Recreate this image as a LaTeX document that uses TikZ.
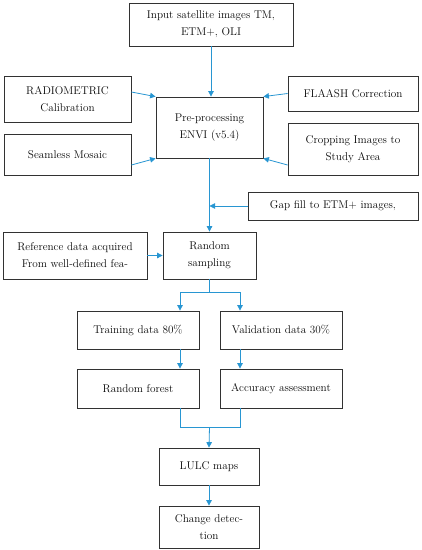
\documentclass[tikz,border=0pt]{standalone}
\usetikzlibrary{arrows.meta}
\definecolor{flow}{RGB}{40,150,210}
\definecolor{edge}{RGB}{50,50,50}
\definecolor{ink}{RGB}{10,10,10}
\begin{document}
\begin{tikzpicture}[x=1pt,y=1pt,
  box/.style={draw=edge,line width=0.8pt,rectangle,inner sep=0pt,align=center,text=ink,
    font=\fontsize{11.2}{17}\selectfont},
  arr/.style={draw=flow,line width=0.8pt,-{Triangle[length=5.5pt,width=5.5pt]}},
  ln/.style={draw=flow,line width=0.8pt}]
\useasboundingbox (0,0) rectangle (422,-550);
\node[box,minimum width=164,minimum height=43] (inp) at (211,-24.5) {Input satellite images TM,\\ETM+, OLI};
\node[box,minimum width=127,minimum height=46] (rad) at (67.5,-99) {RADIOMETRIC\\Calibration};
\node[box,minimum width=107,minimum height=61] (pre) at (209.5,-127.5) {Pre-processing\\ENVI (v5.4)};
\node[box,minimum width=130,minimum height=35] (fla) at (353,-93.5) {FLAASH Correction};
\node[box,minimum width=127,minimum height=41] (sea) at (67.5,-154.5) {Seamless Mosaic};
\node[box,minimum width=130,minimum height=52] (cro) at (353,-149) {Cropping Images to\\Study Area};
\node[box,minimum width=170,minimum height=28] (gap) at (333,-206) {Gap fill to ETM+ images,};
\node[box,minimum width=144,minimum height=47] (ref) at (75,-255.5) {Reference data acquired\\From well-defined fea-};
\node[box,minimum width=93,minimum height=47] (rs) at (209.5,-255.5) {Random\\sampling};
\node[box,minimum width=122,minimum height=38] (tr) at (138,-330) {Training data 80\%};
\node[box,minimum width=122,minimum height=38] (va) at (281,-330) {Validation data 30\%};
\node[box,minimum width=122,minimum height=39] (rf) at (138,-388.5) {Random forest};
\node[box,minimum width=122,minimum height=39] (ac) at (281,-388.5) {Accuracy assessment};
\node[box,minimum width=100,minimum height=37] (lulc) at (209,-466.5) {LULC maps};
\node[box,minimum width=100,minimum height=42] (cd) at (209,-527) {Change detec-\\tion};
% helper x positions
\coordinate (xl) at (180,0);
\coordinate (xr) at (240,0);
\coordinate (split) at (209.5,-292);
\coordinate (join) at (209.5,-427);
% connectors
\draw[arr] (inp.south) -- (inp.south |- pre.north);
\draw[arr] ([yshift=7pt]rad.east) -- (pre.north west);
\draw[arr] ([yshift=-10.5pt]sea.east) -- (pre.south west);
\draw[arr] (fla.west) -- (pre.north east);
\draw[arr] ([yshift=-16pt]cro.west) -- (pre.south east);
\draw[arr] (pre.south) -- (rs.north);
\draw[arr] (gap.west) -- (gap.west -| pre.south);
\draw[arr] (ref.east) -- (rs.west);
\draw[ln] (rs.south) -- (split);
\draw[arr] (split) -| (xl |- tr.north);
\draw[arr] (split) -| (xr |- va.north);
\draw[arr] (xl |- tr.south) -- (xl |- rf.north);
\draw[arr] (xr |- va.south) -- (xr |- ac.north);
\draw[ln] (xl |- rf.south) |- (join);
\draw[ln] (xr |- ac.south) |- (join);
\draw[arr] (join) -- (lulc.north);
\draw[arr] (lulc.south) -- (cd.north);
\end{tikzpicture}
\end{document}
